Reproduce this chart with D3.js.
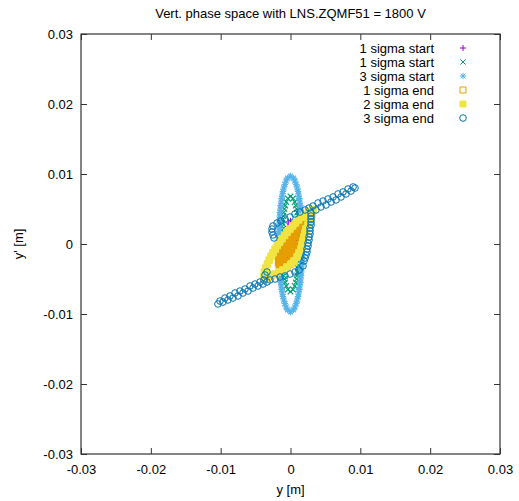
<!DOCTYPE html>
<html>
<head>
<meta charset="utf-8">
<script src="https://cdn.jsdelivr.net/npm/d3@7"></script>
<style>
  body { margin: 0; background: #fff; }
  svg { display: block; font-family: "Liberation Sans", Arial, sans-serif; }
</style>
</head>
<body>
<div id="chart"></div>
<script>
const title = "Vert. phase space with LNS.ZQMF51 = 1800 V"
const xLabel = "y [m]"
const yLabel = "y' [m]"
const xTicks = [-0.03, -0.02, -0.01, 0, 0.01, 0.02, 0.03]
const yTicks = [-0.03, -0.02, -0.01, 0, 0.01, 0.02, 0.03]
const legendLabels = ["1 sigma start", "1 sigma start", "3 sigma start", "1 sigma end", "2 sigma end", "3 sigma end"]

// [y, y'] in metres
const sigma1Start = [[0,0.0033],[0.00025,0.003],[0.00039,0.0025],[0.00048,0.002],[0.00053,0.0015],[0.00057,0.001],[0.00059,0.0005],[0.0006,0],
  [0.00059,-0.0005],[0.00057,-0.001],[0.00053,-0.0015],[0.00048,-0.002],[0.00039,-0.0025],[0.00025,-0.003],[0,-0.0033],
  [-0.00025,-0.003],[-0.00039,-0.0025],[-0.00048,-0.002],[-0.00053,-0.0015],[-0.00057,-0.001],[-0.00059,-0.0005],[-0.0006,0],
  [-0.00059,0.0005],[-0.00057,0.001],[-0.00053,0.0015],[-0.00048,0.002],[-0.00039,0.0025],[-0.00025,0.003]]

const sigma2Start = [[0,0.0068],[0.00038,0.0065],[0.00061,0.006],[0.00076,0.0055],[0.00088,0.005],[0.00097,0.0045],[0.00105,0.004],[0.00111,0.0035],[0.00117,0.003],[0.00121,0.0025],[0.00124,0.002],[0.00127,0.0015],[0.00129,0.001],[0.0013,0.0005],[0.0013,0],
  [0.0013,-0.0005],[0.00129,-0.001],[0.00127,-0.0015],[0.00124,-0.002],[0.00121,-0.0025],[0.00117,-0.003],[0.00111,-0.0035],[0.00105,-0.004],[0.00097,-0.0045],[0.00088,-0.005],[0.00076,-0.0055],[0.00061,-0.006],[0.00038,-0.0065],[0,-0.0068],
  [-0.00038,-0.0065],[-0.00061,-0.006],[-0.00076,-0.0055],[-0.00088,-0.005],[-0.00097,-0.0045],[-0.00105,-0.004],[-0.00111,-0.0035],[-0.00117,-0.003],[-0.00121,-0.0025],[-0.00124,-0.002],[-0.00127,-0.0015],[-0.00129,-0.001],[-0.0013,-0.0005],[-0.0013,0],
  [-0.0013,0.0005],[-0.00129,0.001],[-0.00127,0.0015],[-0.00124,0.002],[-0.00121,0.0025],[-0.00117,0.003],[-0.00111,0.0035],[-0.00105,0.004],[-0.00097,0.0045],[-0.00088,0.005],[-0.00076,0.0055],[-0.00061,0.006],[-0.00038,0.0065]]

const sigma3Start = [[0,0.0097],[0.00042,0.0094],[0.00063,0.009],[0.00082,0.0085],[0.00096,0.008],[0.00108,0.0075],[0.00118,0.007],[0.00126,0.0065],[0.00134,0.006],[0.0014,0.0055],[0.00146,0.005],[0.00151,0.0045],[0.00155,0.004],[0.00159,0.0035],[0.00162,0.003],[0.00164,0.0025],[0.00166,0.002],[0.00168,0.0015],[0.00169,0.001],[0.0017,0.0005],[0.0017,0],
  [0.0017,-0.0005],[0.00169,-0.001],[0.00168,-0.0015],[0.00166,-0.002],[0.00164,-0.0025],[0.00162,-0.003],[0.00159,-0.0035],[0.00155,-0.004],[0.00151,-0.0045],[0.00146,-0.005],[0.0014,-0.0055],[0.00134,-0.006],[0.00126,-0.0065],[0.00118,-0.007],[0.00108,-0.0075],[0.00096,-0.008],[0.00082,-0.0085],[0.00063,-0.009],[0.00042,-0.0094],[0,-0.0097],
  [-0.00042,-0.0094],[-0.00063,-0.009],[-0.00082,-0.0085],[-0.00096,-0.008],[-0.00108,-0.0075],[-0.00118,-0.007],[-0.00126,-0.0065],[-0.00134,-0.006],[-0.0014,-0.0055],[-0.00146,-0.005],[-0.00151,-0.0045],[-0.00155,-0.004],[-0.00159,-0.0035],[-0.00162,-0.003],[-0.00164,-0.0025],[-0.00166,-0.002],[-0.00168,-0.0015],[-0.00169,-0.001],[-0.0017,-0.0005],[-0.0017,0],
  [-0.0017,0.0005],[-0.00169,0.001],[-0.00168,0.0015],[-0.00166,0.002],[-0.00164,0.0025],[-0.00162,0.003],[-0.00159,0.0035],[-0.00155,0.004],[-0.00151,0.0045],[-0.00146,0.005],[-0.0014,0.0055],[-0.00134,0.006],[-0.00126,0.0065],[-0.00118,0.007],[-0.00108,0.0075],[-0.00096,0.008],[-0.00082,0.0085],[-0.00063,0.009],[-0.00042,0.0094]]

const sigma1End = [[-0.00158,-0.00286],
  [-0.00132,-0.0028],[-0.00104,-0.00255],[-0.00069,-0.00214],[-0.00039,-0.00172],[-0.0001,-0.00128],[0.00016,-0.00084],[0.00041,-0.00038],[0.00073,0.00023],[0.00095,0.0007],[0.00116,0.00117],[0.00135,0.00166],[0.00151,0.00216],[0.00164,0.00267],[0.00168,0.00304],
  [0.00158,0.00329],
  [0.00132,0.00322],[0.00104,0.00298],[0.00069,0.00257],[0.00039,0.00215],[0.0001,0.00171],[-0.00016,0.00127],[-0.00041,0.00081],[-0.00073,0.0002],[-0.00095,-0.00027],[-0.00116,-0.00075],[-0.00135,-0.00123],[-0.00151,-0.00173],[-0.00164,-0.00224],[-0.00168,-0.00261],
  [-0.00109,-0.00233],[-0.00072,-0.00174],[-0.00037,-0.00115],[-0.00004,-0.00054],[0.00028,0.00007],[0.00059,0.00069],[0.00089,0.00131],[0.00117,0.00194],[0.00143,0.00259],
  [-0.00143,-0.00216],[-0.00117,-0.00151],[-0.00089,-0.00088],[-0.00059,-0.00026],[-0.00028,0.00036],[0.00004,0.00097],[0.00037,0.00157],[0.00072,0.00217],[0.00109,0.00276]]

const sigma2End = [[-0.0038,-0.00472],[-0.00375,-0.00402],[-0.00354,-0.00344],[-0.00331,-0.00287],[-0.00306,-0.00231],[-0.00279,-0.00177],[-0.0025,-0.00125],[-0.0022,-0.00074],[-0.00189,-0.00023],[-0.00155,0.00026],[-0.00121,0.00075],[-0.00085,0.00122],[-0.00049,0.00169],[-0.00009,0.00213],[0.00031,0.00258],[0.00072,0.00301],[0.00115,0.00343],[0.0016,0.00384],[0.00208,0.00422],[0.00257,0.0046],
  [0.00322,0.00486],[0.00308,0.00429],[0.00294,0.00386],[0.00265,0.00329],[0.00251,0.00272],[0.00222,0.00214],[0.00208,0.00157],[0.00193,0.001],[0.00179,0.00043],[0.00165,-0.00014],[0.0015,-0.00071],[0.00122,-0.00129],[0.00093,-0.00186],[0.0005,-0.00243],[0.00007,-0.00286],[-0.0005,-0.00329],[-0.00107,-0.00372],[-0.00165,-0.004],[-0.00222,-0.00429],[-0.00279,-0.00457],[-0.00337,-0.00486]]

const sigma3End = [
  [0.00322,0.00543],[0.00394,0.00586],[0.00466,0.00614],[0.00537,0.00643],[0.00609,0.00672],[0.00681,0.00715],[0.00752,0.00743],[0.00824,0.00786],[0.00896,0.00815],
  [0.00365,0.00486],[0.00437,0.00529],[0.00509,0.00557],[0.0058,0.006],[0.00652,0.00629],[0.00724,0.00672],[0.00795,0.00715],[0.00867,0.00757],[0.00924,0.008],
  [-0.00193,0.003],[-0.00136,0.00329],[-0.00079,0.00357],[-0.00007,0.00386],[0.00064,0.00429],[0.00136,0.00457],[0.00208,0.00486],[0.00265,0.00514],
  [-0.00251,0.00257],[-0.00265,0.00214],[-0.00265,0.00171],[-0.00251,0.00129],[-0.00236,0.00086],
  [0.00294,0.00443],[0.00294,0.004],[0.00294,0.00357],[0.00294,0.00314],[0.00294,0.00272],[0.00279,0.00229],[0.00279,0.00186],[0.00279,0.00143],[0.00265,0.001],[0.00265,0.00057],[0.00251,0.00014],[0.00251,-0.00029],[0.00236,-0.00071],[0.00236,-0.00114],[0.00222,-0.00157],[0.00208,-0.002],[0.00193,-0.00243],
  [0.00179,-0.00314],[0.00122,-0.00372],[0.00064,-0.004],[-0.00007,-0.00429],[-0.00079,-0.00457],[-0.0015,-0.00472],[-0.00222,-0.005],[-0.00294,-0.00514],
  [-0.00365,-0.00443],[-0.00337,-0.004],
  [-0.00337,-0.00543],[-0.00394,-0.00572],[-0.00466,-0.006],[-0.00537,-0.00629],[-0.00609,-0.00672],[-0.00681,-0.007],[-0.00752,-0.00743],[-0.00824,-0.00772],[-0.00896,-0.008],[-0.00967,-0.00829],[-0.01039,-0.00857],
  [-0.0038,-0.00514],[-0.00437,-0.00543],[-0.00509,-0.00572],[-0.0058,-0.006],[-0.00652,-0.00643],[-0.00724,-0.00672],[-0.00795,-0.007],[-0.00867,-0.00743],[-0.00939,-0.00772],[-0.0101,-0.00815]]

const colors = ["#9400d3", "#009e73", "#56b4e9", "#e69f00", "#f0e442", "#0072b2"]
const markers = ["plus", "cross", "star", "square", "filledSquare", "circle"]
const datasets = [sigma1Start, sigma2Start, sigma3Start, sigma1End, sigma2End, sigma3End]

const width = 519, height = 501
const plotLeft = 81, plotRight = 500, plotTop = 34, plotBottom = 454

const x = d3.scaleLinear().domain([-0.03, 0.03]).range([plotLeft, plotRight])
const y = d3.scaleLinear().domain([-0.03, 0.03]).range([plotBottom, plotTop])
const fmt = d => d === 0 ? "0" : d.toFixed(2)

const markerPath = {
  plus: s => `M${-s},0H${s}M0,${-s}V${s}`,
  cross: s => `M${-s},${-s}L${s},${s}M${-s},${s}L${s},${-s}`,
  star: s => `M${-s},0H${s}M0,${-s}V${s}M${-s*0.75},${-s*0.75}L${s*0.75},${s*0.75}M${-s*0.75},${s*0.75}L${s*0.75},${-s*0.75}`,
  square: s => `M${-s},${-s}h${2*s}v${2*s}h${-2*s}Z`,
  filledSquare: s => `M${-s},${-s}h${2*s}v${2*s}h${-2*s}Z`,
  circle: s => `M${s},0A${s},${s} 0 1,1 ${-s},0A${s},${s} 0 1,1 ${s},0Z`
}
const markerSize = {plus: 3, cross: 2.6, star: 3.2, square: 3, filledSquare: 3, circle: 3.3}
const pointSize = {plus: 3, cross: 2.8, star: 3.3, square: 3, filledSquare: 3.3, circle: 3.3}
const pointStroke = {plus: 1, cross: 1.2, star: 1.2, square: 1.9, filledSquare: 1, circle: 1}

const svg = d3.select("#chart").append("svg")
  .attr("width", width)
  .attr("height", height)

svg.append("text")
  .attr("x", (plotLeft + plotRight) / 2)
  .attr("y", 18)
  .attr("text-anchor", "middle")
  .style("font-size", "13px")
  .text(title)

// axes, ticks inward and mirrored
const axisStyle = g => {
  g.select(".domain").remove()
  g.selectAll(".tick line").attr("stroke", "#333")
  g.selectAll(".tick text").style("font-size", "13px").attr("fill", "#000")
}

svg.append("g")
  .attr("transform", `translate(0,${plotBottom})`)
  .call(d3.axisBottom(x).tickValues(xTicks).tickFormat(fmt).tickSize(-6).tickPadding(11))
  .call(axisStyle)

svg.append("g")
  .attr("transform", `translate(0,${plotTop})`)
  .call(d3.axisTop(x).tickValues(xTicks).tickFormat("").tickSize(-6))
  .call(axisStyle)

svg.append("g")
  .attr("transform", `translate(${plotLeft},0)`)
  .call(d3.axisLeft(y).tickValues(yTicks).tickFormat(fmt).tickSize(-6).tickPadding(8))
  .call(axisStyle)

svg.append("g")
  .attr("transform", `translate(${plotRight},0)`)
  .call(d3.axisRight(y).tickValues(yTicks).tickFormat("").tickSize(-6))
  .call(axisStyle)

svg.append("text")
  .attr("x", (plotLeft + plotRight) / 2)
  .attr("y", 494)
  .attr("text-anchor", "middle")
  .style("font-size", "13px")
  .text(xLabel)

svg.append("text")
  .attr("transform", `translate(23,${(plotTop + plotBottom) / 2}) rotate(-90)`)
  .attr("text-anchor", "middle")
  .style("font-size", "13px")
  .text(yLabel)

// the points
datasets.forEach((pts, i) => {
  const m = markers[i]
  svg.append("g")
    .selectAll("path")
    .data(pts)
    .join("path")
    .attr("transform", d => `translate(${x(d[0])},${y(d[1])})`)
    .attr("d", markerPath[m](pointSize[m]))
    .attr("fill", m === "filledSquare" ? colors[i] : "none")
    .attr("stroke", colors[i])
    .attr("stroke-width", pointStroke[m])
})

svg.append("rect")
  .attr("x", plotLeft)
  .attr("y", plotTop)
  .attr("width", plotRight - plotLeft)
  .attr("height", plotBottom - plotTop)
  .attr("fill", "none")
  .attr("stroke", "#333")
  .attr("stroke-width", 1.2)

// legend
const legend = svg.append("g")
legendLabels.forEach((lab, i) => {
  const ly = 48 + i * 14
  legend.append("text")
    .attr("x", 434)
    .attr("y", ly)
    .attr("dy", "0.35em")
    .attr("text-anchor", "end")
    .style("font-size", "13px")
    .text(lab)
  const m = markers[i]
  legend.append("path")
    .attr("transform", `translate(463,${ly})`)
    .attr("d", markerPath[m](markerSize[m]))
    .attr("fill", m === "filledSquare" ? colors[i] : "none")
    .attr("stroke", colors[i])
})
</script>
</body>
</html>
